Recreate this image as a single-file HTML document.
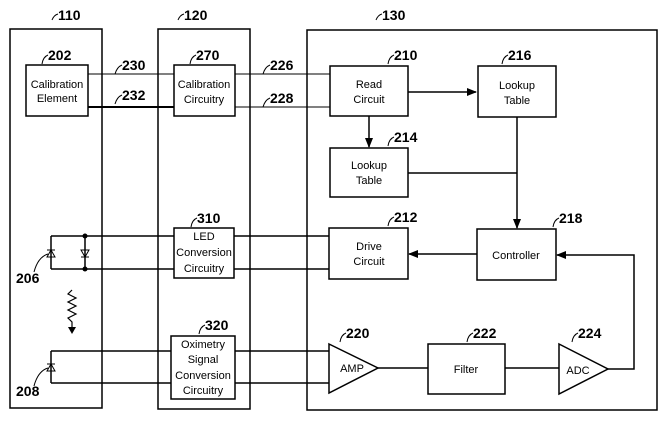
<!DOCTYPE html>
<html><head><style>body{margin:0;background:#fff}</style></head><body>
<svg width="665" height="430" viewBox="0 0 665 430" xmlns="http://www.w3.org/2000/svg" font-family="Liberation Sans, sans-serif">
<defs><marker id="a" markerWidth="10" markerHeight="8" refX="9" refY="4" orient="auto" markerUnits="userSpaceOnUse"><path d="M0,0 L10,4 L0,8 Z" fill="#000"/></marker></defs>
<g fill="none" stroke="#000" stroke-width="1.5">
<rect x="10" y="29" width="92" height="379"/>
<rect x="158" y="29" width="92" height="380"/>
<rect x="307" y="30" width="350" height="380"/>
<rect x="26" y="65" width="62" height="51"/>
<rect x="174" y="65" width="61" height="51"/>
<rect x="330" y="66" width="78" height="50"/>
<rect x="478" y="66" width="78" height="51"/>
<rect x="330" y="148" width="78" height="49"/>
<rect x="477" y="229" width="79" height="51"/>
<rect x="329" y="228" width="79" height="51"/>
<rect x="174" y="228" width="60" height="50"/>
<rect x="171" y="336" width="64" height="63"/>
<rect x="428" y="344" width="77" height="50"/>
<path d="M329,344 L378,368 L329,393 Z"/>
<path d="M559,344 L608,369 L559,394 Z"/>
<path d="M88,74 H174 M235,74 H330 M88,107 H174 M235,107 H330" stroke-width="1"/>
<path d="M88,107 H174" stroke-width="2"/>
<path d="M408,92 H476" marker-end="url(#a)"/>
<path d="M369,116 V147" marker-end="url(#a)"/>
<path d="M408,173 H517 M517,117 V228" marker-end="url(#a)"/>
<path d="M477,254 H409" marker-end="url(#a)"/>
<path d="M608,369 H634 V255 H557" marker-end="url(#a)"/>
<path d="M378,368 H428 M505,368 H559"/>
<path d="M51,236 H174 M234,236 H329 M51,269 H174 M234,269 H329 M51,236 V269 M85,236 V269"/>
<path d="M51,351 H171 M235,351 H329 M51,383 H171 M235,383 H329 M51,351 V383"/>
<path d="M72,290 L68,294 L76,298 L68,302 L76,306 L68,310 L76,314 L68,318 L72,322 V330" stroke-width="1.2"/>
<path d="M47,257 L51,250 L55,257 Z M47,250 H55" stroke-width="1"/>
<path d="M81,250 L85,257 L89,250 Z M81,257 H89" stroke-width="1"/>
<path d="M47,371 L51,364 L55,371 Z M47,364 H55" stroke-width="1"/>
<path d="M34,272 Q38,257 48,254 M34,386 Q38,371 48,368" stroke-width="1"/>
<path d="M52,20 Q54,15 58,14 M178,20 Q180,15 184,14 M376,20 Q378,15 382,14 M42,64 Q43,57 48,55 M190,64 Q191,57 196,55 M388,64 Q389,57 394,55 M502,64 Q503,57 508,55 M388,146 Q389,139 394,137 M388,226 Q389,219 394,217 M553,227 Q554,220 559,218 M340,342 Q341,335 346,333 M467,342 Q468,335 473,333 M572,342 Q573,335 578,333 M199,334 Q200,327 205,325 M191,227 Q192,220 197,218 M115,74 Q117,67 122,65 M115,104 Q117,97 122,95 M263,74 Q265,67 270,65 M263,107 Q265,100 270,98" stroke-width="1"/>
</g>
<circle cx="85" cy="236" r="2.5"/><circle cx="85" cy="269" r="2.5"/>
<path d="M68,327 L72,334 L76,327 Z"/>
<g font-size="14" font-weight="bold">
<text x="58" y="20">110</text><text x="184" y="20">120</text><text x="382" y="20">130</text>
<text x="48" y="60">202</text><text x="196" y="60">270</text><text x="394" y="60">210</text><text x="508" y="60">216</text>
<text x="394" y="142">214</text><text x="394" y="222">212</text><text x="559" y="223">218</text>
<text x="197" y="223">310</text><text x="205" y="330">320</text>
<text x="346" y="338">220</text><text x="473" y="338">222</text><text x="578" y="338">224</text>
<text x="122" y="70">230</text><text x="122" y="100">232</text><text x="270" y="70">226</text><text x="270" y="103">228</text>
<text x="16" y="283">206</text><text x="16" y="396">208</text>
</g>
<g font-size="11" text-anchor="middle">
<text x="57" y="88">Calibration</text><text x="57" y="102">Element</text>
<text x="204" y="88">Calibration</text><text x="204" y="103">Circuitry</text>
<text x="369" y="88">Read</text><text x="369" y="103">Circuit</text>
<text x="517" y="89">Lookup</text><text x="517" y="104">Table</text>
<text x="369" y="169">Lookup</text><text x="369" y="184">Table</text>
<text x="369" y="250">Drive</text><text x="369" y="265">Circuit</text>
<text x="516" y="259">Controller</text>
<text x="204" y="240">LED</text><text x="204" y="256">Conversion</text><text x="204" y="272">Circuitry</text>
<text x="203" y="348">Oximetry</text><text x="203" y="363">Signal</text><text x="203" y="379">Conversion</text><text x="203" y="394">Circuitry</text>
<text x="352" y="372">AMP</text><text x="466" y="373">Filter</text><text x="578" y="374">ADC</text>
</g>
</svg>
</body></html>
